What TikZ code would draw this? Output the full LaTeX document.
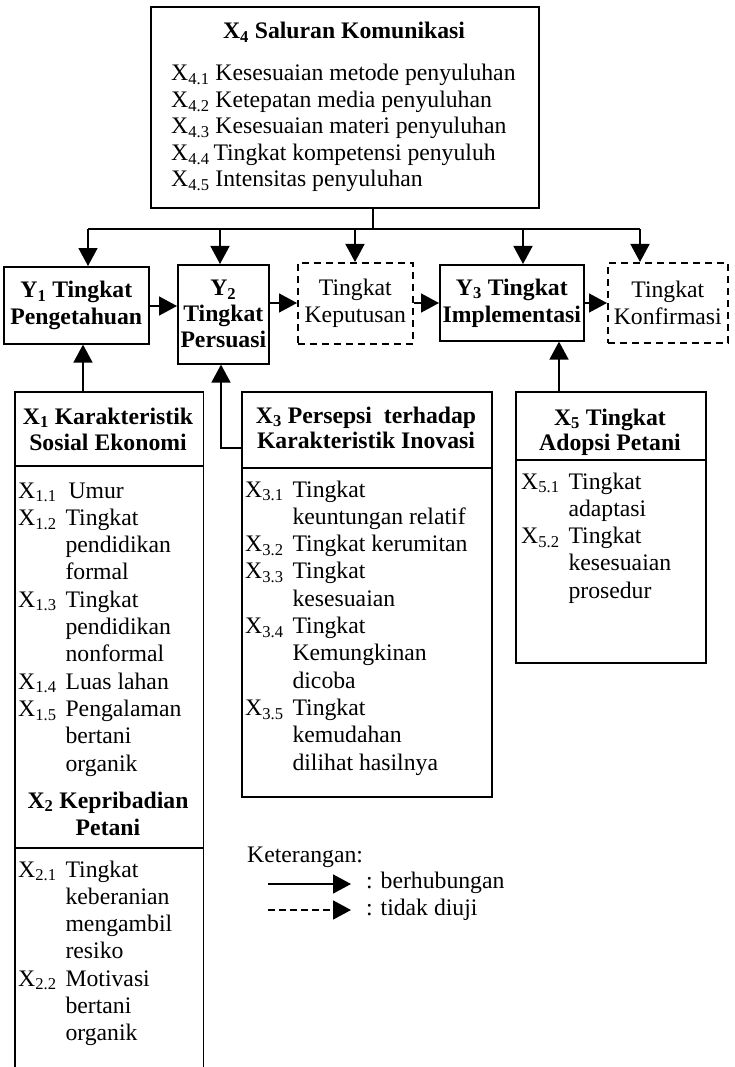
\documentclass[tikz,border=0pt]{standalone}
\usepackage{fontspec}
\setmainfont{Liberation Serif}
\usetikzlibrary{arrows.meta}
\newcommand{\ttab}[1]{\begin{tabular}[t]{@{}c@{}}#1\end{tabular}}
\newcommand{\itab}[1]{\begin{tabular}[t]{@{}l@{\hspace{9pt}}l@{}}#1\end{tabular}}
\begin{document}
\begin{tikzpicture}[x=1pt,y=-1pt,
  font=\fontsize{23.7}{27.3}\selectfont,
  box/.style={draw,line width=1.6pt,rectangle,inner sep=0pt,anchor=north west},
  dbox/.style={box,dash pattern=on 7pt off 5pt},
  lbl/.style={inner sep=0pt,anchor=base west},
  ttl/.style={inner sep=0pt,anchor=base,font=\fontsize{23.7}{26.5}\selectfont\bfseries},
  ybold/.style={align=center,font=\fontsize{23.7}{27}\selectfont\bfseries},
  ynorm/.style={align=center,font=\fontsize{23.7}{27}\selectfont},
  arr/.style={line width=1.6pt,-{Triangle[width=19pt,length=18pt]}},
  ln/.style={line width=1.6pt}
]
\useasboundingbox (0,0) rectangle (734,1067);

% ---------- top box X4 ----------
\node[box,minimum width=388pt,minimum height=201pt] (x4) at (150,6) {};
\node[ttl] (x4t) at (344,39) {X\textsubscript{4} Saluran Komunikasi};
\node[lbl,font=\fontsize{23.7}{26.5}\selectfont] (x4i) at (171,81) {\begin{tabular}[t]{@{}l@{}}
X\textsubscript{4.1} Kesesuaian metode penyuluhan\\
X\textsubscript{4.2} Ketepatan media penyuluhan\\
X\textsubscript{4.3} Kesesuaian materi penyuluhan\\
X\textsubscript{4.4}\,Tingkat kompetensi penyuluh\\
X\textsubscript{4.5} Intensitas penyuluhan
\end{tabular}};

% ---------- Y row ----------
\node[box,ybold,minimum width=145pt,minimum height=77pt] (y1) at (3,266) {Y\textsubscript{1} Tingkat\\Pengetahuan};
\node[box,ybold,minimum width=91pt,minimum height=99pt,font=\fontsize{23.7}{26}\selectfont\bfseries] (y2) at (177,264) {Y\textsubscript{2}\\Tingkat\\Persuasi};
\node[dbox,ynorm,minimum width=115pt,minimum height=81pt] (kep) at (297,262) {Tingkat\\Keputusan};
\node[box,ybold,minimum width=144pt,minimum height=76pt] (y3) at (439,264) {Y\textsubscript{3} Tingkat\\Implementasi};
\node[dbox,ynorm,minimum width=120pt,minimum height=80pt] (konf) at (607,262) {Tingkat\\Konfirmasi};

% ---------- bus from X4 ----------
\coordinate (j) at (373,229);
\coordinate (ta) at (88,229);
\coordinate (tb) at (220,229);
\coordinate (tc) at (355,229);
\coordinate (td) at (523,229);
\coordinate (te) at (640,229);
\draw[ln] (x4.south -| j) -- (j);
\draw[ln] (ta) -- (te);
\draw[arr] (ta) -- (ta |- y1.north);
\draw[arr] (tb) -- (tb |- y2.north);
\draw[arr] (tc) -- (tc |- kep.north);
\draw[arr] (td) -- (td |- y3.north);
\draw[arr] (te) -- (te |- konf.north);

% ---------- horizontal arrows ----------
\coordinate (hA) at (0,306);
\coordinate (hB) at (0,303);
\draw[arr] (y1.east |- hA) -- (y2.west |- hA);
\draw[arr] (y2.east |- hB) -- (kep.west |- hB);
\draw[arr] (kep.east |- hB) -- (y3.west |- hB);
\draw[arr] (y3.east |- hB) -- (konf.west |- hB);

% ---------- X1 / X2 box ----------
\node[inner sep=0pt,anchor=north west,minimum width=188pt,minimum height=675pt] (x1) at (15,392) {};
\draw[ln] (x1.south west) -- (x1.north west) -- (x1.north east) -- (x1.south east);
\coordinate (s1) at (0,466);
\coordinate (s2) at (0,848);
\draw[ln] (x1.west |- s1) -- (x1.east |- s1);
\draw[ln] (x1.west |- s2) -- (x1.east |- s2);
\node[ttl] (x1t) at (108,424) {\ttab{X\textsubscript{1} Karakteristik\\Sosial Ekonomi}};
\node[lbl] (x1i) at (18,498) {\itab{
X\textsubscript{1.1} & \hspace{3pt}Umur\\
X\textsubscript{1.2} & Tingkat\\
 & pendidikan\\
 & formal\\
X\textsubscript{1.3} & Tingkat\\
 & pendidikan\\
 & nonformal\\
X\textsubscript{1.4} & Luas lahan\\
X\textsubscript{1.5} & Pengalaman\\
 & bertani\\
 & organik}};
\node[ttl,font=\fontsize{23.7}{27}\selectfont\bfseries] (x2t) at (108,808) {\ttab{X\textsubscript{2} Kepribadian\\Petani}};
\node[lbl] (x2i) at (18,877) {\itab{
X\textsubscript{2.1} & Tingkat\\
 & keberanian\\
 & mengambil\\
 & resiko\\
X\textsubscript{2.2} & Motivasi\\
 & bertani\\
 & organik}};

% ---------- X3 box ----------
\node[box,minimum width=250pt,minimum height=405pt] (x3) at (241,391) {};
\coordinate (s3) at (0,468);
\draw[ln] (x3.west |- s3) -- (x3.east |- s3);
\node[ttl,font=\fontsize{23.7}{25.5}\selectfont\bfseries] (x3t) at (366,423) {\ttab{X\textsubscript{3} Persepsi\ \ terhadap\\Karakteristik Inovasi}};
\node[lbl] (x3i) at (245,497) {\itab{
X\textsubscript{3.1} & Tingkat\\
 & keuntungan relatif\\
X\textsubscript{3.2} & Tingkat kerumitan\\
X\textsubscript{3.3} & Tingkat\\
 & kesesuaian\\
X\textsubscript{3.4} & Tingkat\\
 & Kemungkinan\\
 & dicoba\\
X\textsubscript{3.5} & Tingkat\\
 & kemudahan\\
 & dilihat hasilnya}};

% ---------- X5 box ----------
\node[box,minimum width=190pt,minimum height=271pt] (x5) at (515,391) {};
\coordinate (s5) at (0,460);
\draw[ln] (x5.west |- s5) -- (x5.east |- s5);
\node[ttl,font=\fontsize{23.7}{25.5}\selectfont\bfseries] (x5t) at (610,425) {\ttab{X\textsubscript{5} Tingkat\\Adopsi Petani}};
\node[lbl] (x5i) at (521,489) {\itab{
X\textsubscript{5.1} & Tingkat\\
 & adaptasi\\
X\textsubscript{5.2} & Tingkat\\
 & kesesuaian\\
 & prosedur}};

% ---------- upward arrows ----------
\coordinate (vA) at (83,0);
\coordinate (vB) at (221,448);
\coordinate (vC) at (559,0);
\draw[arr] (x1.north -| vA) -- (y1.south -| vA);
\draw[arr] (x3.west |- vB) -- (vB) -- (y2.south -| vB);
\draw[arr] (x5.north -| vC) -- (y3.south -| vC);

% ---------- legend ----------
\node[lbl] (ket) at (247,862) {Keterangan:};
\coordinate (l1a) at (268,884);
\coordinate (l1b) at (351,884);
\coordinate (l2a) at (268,910);
\coordinate (l2b) at (351,910);
\draw[arr] (l1a) -- (l1b);
\draw[arr,dash pattern=on 7pt off 4pt] (l2a) -- (l2b);
\node[lbl] (l1t) at (366,888) {: berhubungan};
\node[lbl] (l2t) at (366,915) {: tidak diuji};
\end{tikzpicture}
\end{document}
